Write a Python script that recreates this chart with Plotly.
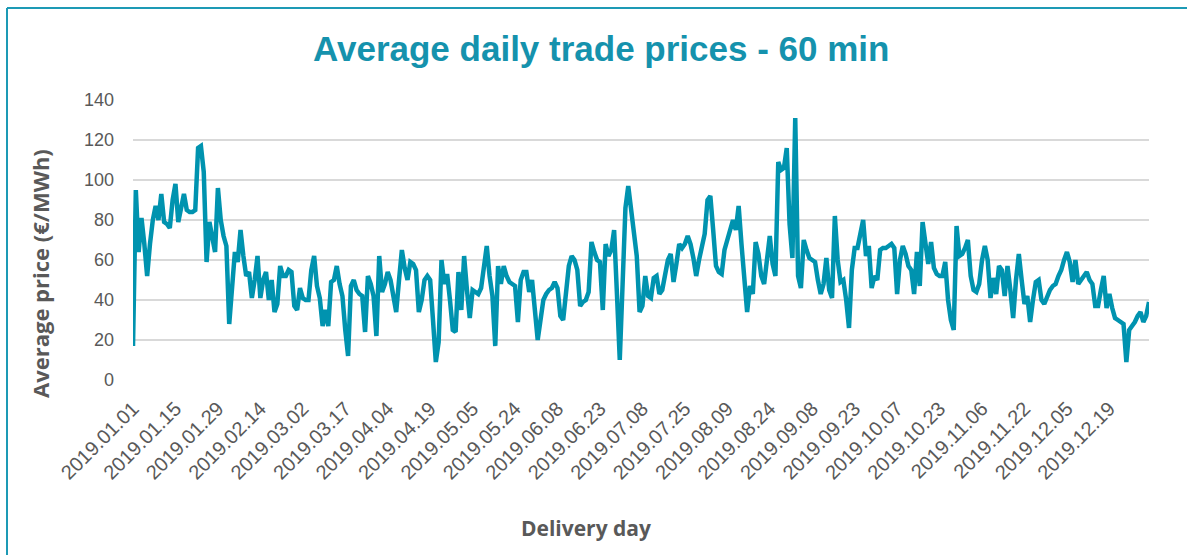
import plotly.graph_objects as go

# Daily average prices (EUR/MWh), one value per delivery day shown
prices = [
    17, 95, 64, 81, 68, 52, 68, 80, 87, 80,
    93, 79, 78, 76, 90, 98, 79, 86, 93, 85,
    84, 84, 85, 116, 117, 104, 59, 79, 72, 64,
    96, 80, 72, 67, 28, 50, 64, 59, 75, 62,
    52, 54, 41, 50, 62, 41, 50, 54, 40, 50,
    34, 38, 57, 52, 52, 55, 54, 37, 35, 46,
    41, 40, 40, 55, 62, 47, 41, 27, 35, 27,
    49, 50, 57, 48, 42, 25, 12, 47, 50, 45,
    43, 42, 24, 52, 48, 42, 22, 62, 44, 48,
    54, 50, 42, 34, 50, 65, 56, 50, 59, 58,
    55, 34, 40, 50, 52, 50, 30, 9, 19, 60,
    48, 53, 40, 25, 24, 54, 35, 62, 45, 31,
    45, 44, 43, 46, 56, 67, 52, 42, 17, 57,
    48, 57, 52, 49, 48, 47, 29, 50, 54, 54,
    44, 50, 35, 20, 30, 40, 43, 45, 46, 49,
    46, 32, 30, 45, 57, 62, 60, 55, 37, 39,
    40, 44, 69, 64, 60, 59, 35, 68, 62, 65,
    75, 43, 10, 48, 86, 97, 85, 75, 62, 34,
    37, 52, 42, 41, 51, 52, 43, 45, 52, 60,
    63, 49, 58, 68, 66, 68, 72, 68, 61, 52,
    60, 66, 73, 90, 92, 75, 57, 54, 53, 65,
    70, 76, 80, 75, 87, 68, 50, 34, 47, 43,
    69, 63, 52, 48, 60, 72, 58, 52, 109, 105,
    106, 116, 78, 61, 131, 52, 46, 70, 65, 61,
    60, 59, 50, 43, 48, 61, 45, 41, 82, 60,
    49, 50, 40, 26, 55, 66, 66, 72, 80, 62,
    67, 46, 52, 50, 65, 66, 66, 67, 68, 66,
    43, 60, 67, 63, 57, 55, 43, 64, 47, 79,
    70, 58, 69, 56, 53, 52, 52, 59, 40, 30,
    25, 77, 62, 63, 66, 70, 52, 45, 44, 48,
    60, 67, 60, 41, 51, 43, 57, 55, 42, 57,
    45, 31, 50, 63, 50, 38, 42, 29, 40, 49,
    50, 40, 38, 42, 45, 47, 48, 52, 55, 60,
    64, 59, 49, 60, 48, 50, 52, 54, 50, 48,
    37, 37, 45, 52, 36, 43, 36, 31, 30, 29,
    28, 9, 25, 27, 29, 32, 34, 29, 32, 39,
]

tick_labels = [
    "2019.01.01", "2019.01.15", "2019.01.29", "2019.02.14", "2019.03.02",
    "2019.03.17", "2019.04.04", "2019.04.19", "2019.05.05", "2019.05.24",
    "2019.06.08", "2019.06.23", "2019.07.08", "2019.07.25", "2019.08.09",
    "2019.08.24", "2019.09.08", "2019.09.23", "2019.10.07", "2019.10.23",
    "2019.11.06", "2019.11.22", "2019.12.05", "2019.12.19",
]
label_step = 15

y_ticks = [0, 20, 40, 60, 80, 100, 120, 140]

x_index = list(range(len(prices)))
tick_positions = [i * label_step for i in range(len(tick_labels))]

TEAL = "#0093af"
GREY = "#595959"

# plot area in pixels: x 133..1149, y 100..380
PL, PW, PB, PH = 133, 1016, 380, 280


def px(x):
    return (x - PL) / PW


def py(y):
    return (PB - y) / PH


fig = go.Figure()
fig.add_trace(go.Scatter(
    x=x_index, y=prices, mode="lines",
    line=dict(color=TEAL, width=4.5, shape="linear"),
    hoverinfo="y",
))

fig.update_layout(
    width=1187, height=555,
    margin=dict(l=133, r=38, t=100, b=175),
    paper_bgcolor="white", plot_bgcolor="white",
    showlegend=False,
    font=dict(family="Liberation Sans, Arial, sans-serif", color=GREY),
    xaxis=dict(
        range=[0, len(prices) - 1],
        tickmode="array", tickvals=tick_positions, ticktext=tick_labels,
        tickangle=-45, tickfont=dict(size=20, color=GREY),
        showgrid=False, zeroline=False, showline=False, ticks="",
        ticklabelstandoff=12,
    ),
    yaxis=dict(
        range=[0, 140], tickmode="array", tickvals=y_ticks,
        tickfont=dict(size=18, color=GREY),
        showgrid=True, gridcolor="#d9d9d9", gridwidth=1.5,
        zeroline=False, showline=False, ticks="",
        ticklabelstandoff=18,
    ),
    annotations=[
        dict(text="<b>Average daily trade prices - 60 min</b>",
             xref="paper", yref="paper", x=px(601), y=py(48),
             xanchor="center", yanchor="middle", showarrow=False,
             font=dict(size=35, color="#1592ad", family="Liberation Sans, Arial, sans-serif")),
        dict(text="<b>Average price (€/MWh)</b>",
             xref="paper", yref="paper", x=px(40), y=py(274),
             xanchor="center", yanchor="middle", showarrow=False, textangle=-90,
             font=dict(size=22, color=GREY, family="Open Sans, sans-serif")),
        dict(text="<b>Delivery day</b>",
             xref="paper", yref="paper", x=px(586), y=py(528),
             xanchor="center", yanchor="middle", showarrow=False,
             font=dict(size=21, color=GREY, family="Open Sans, sans-serif")),
    ],
    shapes=[
        dict(type="line", xref="paper", yref="paper",
             x0=px(7), x1=px(1200), y0=py(8), y1=py(8),
             line=dict(color="#1d9ab5", width=2)),
        dict(type="line", xref="paper", yref="paper",
             x0=px(7), x1=px(7), y0=py(8), y1=py(570),
             line=dict(color="#1d9ab5", width=2)),
    ],
)

fig.write_html("out.html", config={"displayModeBar": False},
               post_script="document.body.style.margin='0';")
